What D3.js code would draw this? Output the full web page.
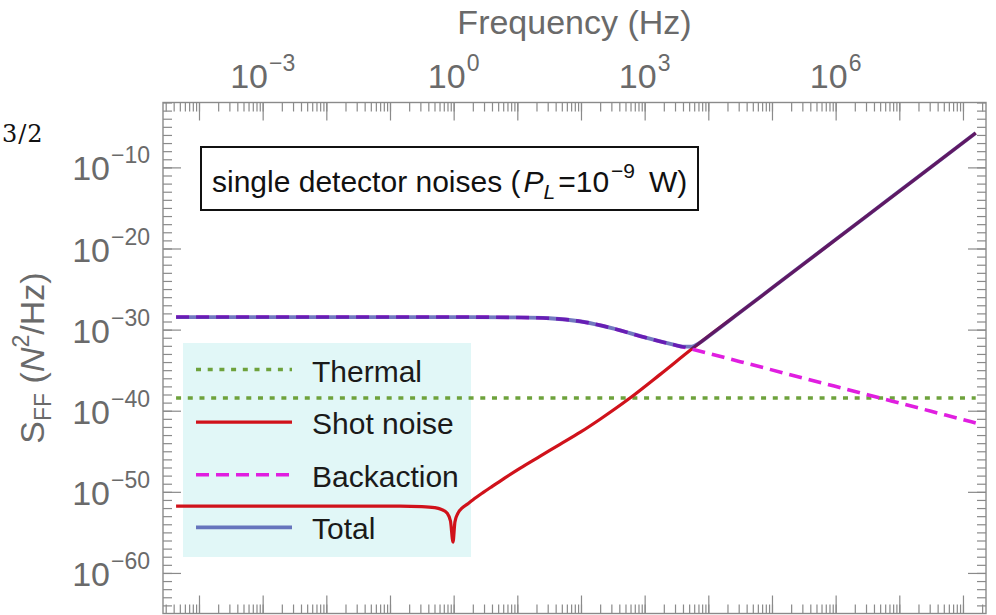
<!DOCTYPE html>
<html>
<head>
<meta charset="utf-8">
<script src="https://cdn.jsdelivr.net/npm/d3@7"></script>
<style>
  body { margin: 0; background: #fff; }
  svg { display: block; font-family: "Liberation Sans", Arial, Helvetica, sans-serif; }
</style>
</head>
<body>
<svg width="996" height="615"></svg>
<script>
/* ===============================
   Data (log10 Hz, log10 N^2/Hz)
   =============================== */
let thermalF = [-4.36, 8.2];
let thermalS = [-38.44, -38.44];

let shotF = [-4.36, -2.41, -0.84, -0.5, -0.3, -0.2, -0.10, -0.05, -0.01, 0.02, 0.07, 0.13, 0.21, 0.30, 0.46, 0.60, 0.80,
             1.04, 1.36, 1.67, 1.99, 2.30, 2.77, 3.24, 3.74, 4.65, 5.44, 6.22, 7.01, 8.2];
let shotS = [-51.75, -51.75, -51.77, -51.82, -51.95, -52.15, -52.65, -53.6, -56.2, -53.7, -52.6, -52.0, -51.55, -51.0, -50.1, -49.35, -48.3,
             -47.1, -45.6, -44.15, -42.65, -41.05, -38.44, -35.55, -32.4, -26.97, -22.25, -17.6, -12.88, -5.77];

let backF = [-4.36, 0, 1.0, 1.5, 2.0, 2.5, 3.0, 3.5, 3.74, 4.5, 5.5, 6.5, 7.5, 8.2];
let backS = [-28.45, -28.45, -28.5, -28.6, -29.0, -29.85, -30.95, -31.95, -32.4, -33.95, -35.99, -38.03, -40.07, -41.5];

let totalF = [-4.36, 0, 1.0, 1.5, 2.0, 2.5, 3.0, 3.5, 3.6, 3.74, 3.85, 4.0, 4.5, 5.5, 6.5, 7.5, 8.2];
let totalS = [-28.45, -28.45, -28.5, -28.6, -29.0, -29.85, -30.95, -31.94, -32.1, -32.1, -31.69, -30.84, -27.86, -21.89, -15.92, -9.95, -5.77];

let xMajorExp = [-4, -3, -2, -1, 0, 1, 2, 3, 4, 5, 6, 7, 8];
let xLabelExp = [-3, 0, 3, 6];
let yMajorExp = [-60, -50, -40, -30, -20, -10];
let legendLabels = ["Thermal", "Shot noise", "Backaction", "Total"];

/* ===============================
   Layout
   =============================== */
let plotLeft = 163, plotRight = 986, plotTop = 102.5, plotBottom = 613.5;

let svg = d3.select("svg");

let x = d3.scaleLog().domain([2.72e-5, 2.3e8]).range([plotLeft, plotRight]);
let y = d3.scaleLog().domain([1e-65, 1e-2]).range([plotBottom, plotTop]);

let p10 = e => Math.pow(10, e);

/* ===============================
   Styles per series
   =============================== */
let styles = {
    thermal: { stroke: "#6ea23c", width: 3.6, dash: "5,6.7", opacity: 1 },
    shot: { stroke: "#d0121b", width: 3.2, dash: null, opacity: 1 },
    back: { stroke: "#e01ee0", width: 3.6, dash: "13,7", opacity: 1 },
    total: { stroke: "rgb(20,30,150)", width: 3.8, dash: null, opacity: 0.6 }
};

/* ===============================
   Background + legend panel
   =============================== */
svg.append("rect")
    .attr("x", 0).attr("y", 0)
    .attr("width", 996).attr("height", 615)
    .attr("fill", "#fff");

svg.append("rect")
    .attr("x", 183).attr("y", 343)
    .attr("width", 288).attr("height", 214)
    .attr("fill", "#e1f7f7");

/* ===============================
   Curves
   =============================== */
svg.append("clipPath").attr("id", "plotClip")
    .append("rect")
    .attr("x", plotLeft).attr("y", plotTop)
    .attr("width", plotRight - plotLeft).attr("height", plotBottom - plotTop);

let plot = svg.append("g").attr("clip-path", "url(#plotClip)");

let line = d3.line()
    .x(d => x(p10(d[0])))
    .y(d => y(p10(d[1])))
    .curve(d3.curveMonotoneX);

function drawSeries(fs, ss, st) {
    let pts = fs.map((f, i) => [f, ss[i]]);
    plot.append("path")
        .attr("d", line(pts))
        .attr("fill", "none")
        .attr("stroke", st.stroke)
        .attr("stroke-width", st.width)
        .attr("stroke-dasharray", st.dash)
        .attr("stroke-opacity", st.opacity);
}

drawSeries(thermalF, thermalS, styles.thermal);
drawSeries(shotF, shotS, styles.shot);
drawSeries(backF, backS, styles.back);
drawSeries(totalF, totalS, styles.total);

/* ===============================
   Legend entries
   =============================== */
let legendStyles = [styles.thermal, styles.shot, styles.back, styles.total];
legendLabels.forEach((name, i) => {
    let ly = 369.5 + i * 52.6;
    let st = legendStyles[i];
    svg.append("line")
        .attr("x1", 196).attr("x2", 292)
        .attr("y1", ly).attr("y2", ly)
        .attr("stroke", st.stroke)
        .attr("stroke-width", st.width)
        .attr("stroke-dasharray", st.dash)
        .attr("stroke-opacity", st.opacity);
    svg.append("text")
        .attr("x", 312).attr("y", ly + 12)
        .attr("font-size", 30)
        .attr("fill", "#1a1a1a")
        .text(name);
});

/* ===============================
   Title box
   =============================== */
svg.append("rect")
    .attr("x", 201).attr("y", 147)
    .attr("width", 497).attr("height", 63)
    .attr("fill", "#fff")
    .attr("stroke", "#111")
    .attr("stroke-width", 2);

let title = svg.append("text")
    .attr("x", 212).attr("y", 192)
    .attr("font-size", 30)
    .attr("fill", "#111");
title.append("tspan").text("single detector noises (");
title.append("tspan").attr("font-style", "italic").attr("dx", 3).text("P");
title.append("tspan").attr("font-style", "italic").attr("font-size", 21).attr("dy", 7).text("L");
title.append("tspan").attr("dy", -7).attr("dx", 3).text("=10");
title.append("tspan").attr("font-size", 21).attr("dy", -14).attr("dx", 2).text("\u22129");
title.append("tspan").attr("dy", 14).attr("dx", 14).text("W)");

/* ===============================
   Frame and ticks
   =============================== */
let xMinor = x.ticks(20);
let yMinor = d3.range(-64, -1).map(p10);
let xMajor = xMajorExp.map(p10);
let yMajor = yMajorExp.map(p10);

function styleAxis(g) {
    g.select(".domain").remove();
    g.selectAll(".tick line").attr("stroke", "#8a8a8a").attr("stroke-width", 1.2);
}

[[d3.axisTop, plotTop], [d3.axisBottom, plotBottom]].forEach(([ax, pos]) => {
    svg.append("g").attr("transform", `translate(0,${pos})`)
        .call(ax(x).tickValues(xMinor).tickSize(-9).tickFormat(""))
        .call(styleAxis);
    svg.append("g").attr("transform", `translate(0,${pos})`)
        .call(ax(x).tickValues(xMajor).tickSize(-18).tickFormat(""))
        .call(styleAxis);
});

[[d3.axisLeft, plotLeft], [d3.axisRight, plotRight]].forEach(([ax, pos]) => {
    svg.append("g").attr("transform", `translate(${pos},0)`)
        .call(ax(y).tickValues(yMinor).tickSize(-9).tickFormat(""))
        .call(styleAxis);
    svg.append("g").attr("transform", `translate(${pos},0)`)
        .call(ax(y).tickValues(yMajor).tickSize(-18).tickFormat(""))
        .call(styleAxis);
});

svg.append("rect")
    .attr("x", plotLeft).attr("y", plotTop)
    .attr("width", plotRight - plotLeft).attr("height", plotBottom - plotTop)
    .attr("fill", "none")
    .attr("stroke", "#8a8a8a")
    .attr("stroke-width", 1.4);

/* ===============================
   Tick labels
   =============================== */
let labelGrey = "#6a6a6a";

xLabelExp.forEach(e => {
    let t = svg.append("text")
        .attr("x", x(p10(e)))
        .attr("y", 88)
        .attr("text-anchor", "middle")
        .attr("font-size", 34)
        .attr("fill", labelGrey);
    t.append("tspan").text("10");
    t.append("tspan").attr("font-size", 23).attr("dy", -17).attr("dx", 1)
        .text(e < 0 ? "\u2212" + (-e) : String(e));
});

yMajorExp.forEach(e => {
    let t = svg.append("text")
        .attr("x", 150)
        .attr("y", y(p10(e)) + 13)
        .attr("text-anchor", "end")
        .attr("font-size", 34)
        .attr("fill", labelGrey);
    t.append("tspan").text("10");
    t.append("tspan").attr("font-size", 23).attr("dy", -17).attr("dx", 1)
        .text("\u2212" + (-e));
});

/* ===============================
   Axis titles
   =============================== */
svg.append("text")
    .attr("x", (plotLeft + plotRight) / 2)
    .attr("y", 34)
    .attr("text-anchor", "middle")
    .attr("font-size", 34)
    .attr("fill", labelGrey)
    .text("Frequency (Hz)");

let yt = svg.append("text")
    .attr("transform", `translate(44,${(plotTop + plotBottom) / 2}) rotate(-90)`)
    .attr("text-anchor", "middle")
    .attr("font-size", 34)
    .attr("fill", labelGrey);
yt.append("tspan").text("S");
yt.append("tspan").attr("font-size", 23).attr("dy", 7).text("FF");
yt.append("tspan").attr("dy", -7).text(" (");
yt.append("tspan").attr("font-style", "italic").text("N");
yt.append("tspan").attr("font-size", 23).attr("dy", -15).text("2");
yt.append("tspan").attr("dy", 15).text("/Hz)");

/* leftover of a neighbouring label */
svg.append("text")
    .attr("x", 2).attr("y", 142)
    .attr("font-family", "'DejaVu Serif', 'Liberation Serif', serif")
    .attr("font-size", 24)
    .attr("letter-spacing", 1)
    .attr("fill", "#111")
    .text("3/2");
</script>
</body>
</html>
